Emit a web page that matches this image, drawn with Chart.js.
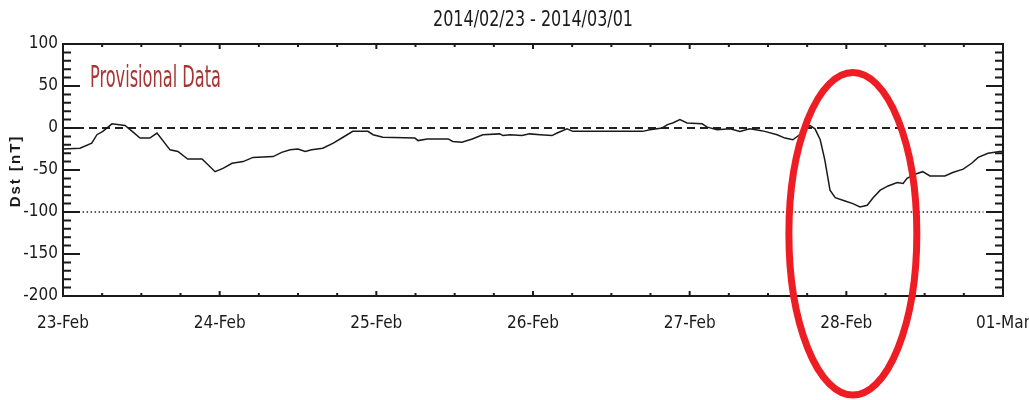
<!DOCTYPE html>
<html lang="en">
<head>
    <meta charset="UTF-8">
    <title>Dst 2014/02/23 - 2014/03/01</title>
    <script src="https://cdn.jsdelivr.net/npm/chart.js"></script>
    <style>
        body {
            margin: 0;
            padding: 0;
            background: #ffffff;
        }

        .chart-container {
            position: relative;
            width: 1029px;
            height: 400px;
        }
    </style>
</head>
<body>
    <div class="chart-container">
        <canvas id="dstChart"></canvas>
    </div>

    <script>
        // hours since 2014-02-23 00:00 UT, and Dst (nT)
        const hours = [0, 2.6, 4.4, 5.2, 6.1, 7.5, 9.5, 10.6, 11.8, 13.3, 14.4, 16.4, 17.6, 19.1, 21.3, 23.3,
            24.5, 25.9, 27.6, 29.1, 32.2, 33.5, 34.8, 36.0, 37.1, 38.1, 39.8, 41.4, 42.9, 44.4, 46.7, 47.5,
            49.0, 53.9, 54.4, 55.8, 59.0, 59.7, 61.1, 62.7, 64.3, 66.9, 67.4, 68.5, 70.3, 71.5, 73.1, 74.9,
            75.7, 77.2, 78.1, 88.8, 89.9, 91.8, 92.6, 93.4, 94.5, 95.6, 97.9, 98.7, 100.2, 102.2, 103.7,
            105.2, 106.8, 107.5, 109.4, 110.6, 111.8, 113.2, 114.4, 115.2, 116.0, 116.7, 117.5, 118.3,
            119.8, 121.0, 122.1, 123.2, 124.1, 125.2, 126.4, 127.8, 128.7, 129.3, 130.5, 131.7, 132.8,
            135.1, 136.3, 137.9, 139.2, 140.2, 141.7, 143.5, 144];
        const dst = [-25, -24, -18, -8, -4, 5, 3, -4, -12, -12, -6, -26, -28, -37, -37, -52,
            -48, -42, -40, -35, -34, -29, -26, -25, -28, -26, -24, -18, -11, -4, -4, -8,
            -11, -12, -15, -13, -13, -16, -17, -13, -8, -7, -9, -8, -9, -7, -8, -9,
            -6, -1, -4, -4, -2, 0, 4, 6, 10, 6, 5, 1, -2, -1, -4,
            -1, -3, -4, -8, -12, -14, -6, 3, -1, -14, -38, -74, -83,
            -87, -90, -94, -92, -83, -74, -69, -65, -66, -60, -55, -52, -57,
            -57, -53, -49, -42, -35, -30, -28, -28];

        const dayLabels = ['23-Feb', '24-Feb', '25-Feb', '26-Feb', '27-Feb', '28-Feb', '01-Mar'];
        const titleText = '2014/02/23 - 2014/03/01';
        const noteText = 'Provisional Data';
        const yTitle = 'Dst [nT]';
        const stormLevel = -100;

        // red circle drawn round the storm (centre hour / nT, half sizes)
        const markCenter = { x: 121, y: -126 };
        const markHalf = { x: 9.8, y: 192 };

        const narrow = "'Liberation Sans Narrow', 'DejaVu Sans Condensed', sans-serif";
        const ink = '#1a1a1a';

        // IDL style box: frame plus inward ticks on all four sides
        const idlFrame = {
            id: 'idlFrame',
            afterDatasetsDraw(chart) {
                const { ctx, chartArea: a, scales: { x, y } } = chart;
                ctx.save();
                ctx.strokeStyle = ink;
                ctx.lineWidth = 2;
                ctx.strokeRect(a.left, a.top, a.right - a.left, a.bottom - a.top);

                ctx.beginPath();
                for (let v = -200; v <= 100; v += 10) {
                    const py = y.getPixelForValue(v);
                    const len = v % 50 === 0 ? 17 : 8;
                    ctx.moveTo(a.left, py);
                    ctx.lineTo(a.left + len, py);
                    ctx.moveTo(a.right, py);
                    ctx.lineTo(a.right - len, py);
                }
                for (let h = 0; h <= 144; h += 6) {
                    const px = x.getPixelForValue(h);
                    const len = h % 24 === 0 ? 5 : 3;
                    ctx.moveTo(px, a.bottom);
                    ctx.lineTo(px, a.bottom - len);
                    ctx.moveTo(px, a.top);
                    ctx.lineTo(px, a.top + len);
                }
                ctx.stroke();
                ctx.restore();
            },
            afterDraw(chart) {
                const { ctx, chartArea: a, scales: { x, y } } = chart;
                ctx.save();

                ctx.fillStyle = ink;
                ctx.font = '21px ' + narrow;
                ctx.textAlign = 'center';
                ctx.textBaseline = 'middle';
                ctx.fillText(titleText, (a.left + a.right) / 2, 21, 200);

                // axis title, spaced out like the original
                ctx.save();
                ctx.translate(16, (a.top + a.bottom) / 2 + 1);
                ctx.rotate(-Math.PI / 2);
                ctx.font = "bold 15px 'Liberation Sans', Arial, sans-serif";
                ctx.letterSpacing = '2px';
                ctx.fillText(yTitle, 0, 0);
                ctx.restore();

                ctx.fillStyle = '#a83434';
                ctx.font = '30px ' + narrow;
                ctx.textAlign = 'left';
                ctx.textBaseline = 'alphabetic';
                ctx.fillText(noteText, a.left + 27, a.top + 43, 131);

                const cx = x.getPixelForValue(markCenter.x);
                const cy = y.getPixelForValue(markCenter.y);
                const rx = x.getPixelForValue(markCenter.x + markHalf.x) - cx;
                const ry = y.getPixelForValue(markCenter.y - markHalf.y) - cy;
                ctx.beginPath();
                ctx.ellipse(cx, cy, rx, ry, 0, 0, Math.PI * 2);
                ctx.strokeStyle = '#ee1d23';
                ctx.lineWidth = 7;
                ctx.stroke();
                ctx.restore();
            }
        };

        new Chart(document.getElementById('dstChart'), {
            type: 'line',
            data: {
                datasets: [
                    {
                        label: 'Dst',
                        data: hours.map((h, i) => ({ x: h, y: dst[i] })),
                        borderColor: ink,
                        borderWidth: 1.5,
                        pointRadius: 0,
                        tension: 0
                    },
                    {
                        label: 'zero',
                        data: [{ x: 0, y: 0 }, { x: 144, y: 0 }],
                        borderColor: '#222',
                        borderWidth: 2,
                        borderDash: [8, 5],
                        pointRadius: 0
                    },
                    {
                        label: 'storm',
                        data: [{ x: 3, y: stormLevel }, { x: 141, y: stormLevel }],
                        borderColor: '#222',
                        borderWidth: 1.5,
                        borderDash: [1.5, 2.5],
                        pointRadius: 0
                    }
                ]
            },
            options: {
                responsive: true,
                maintainAspectRatio: false,
                animation: false,
                layout: { padding: { top: 44, right: 26, left: 0, bottom: 0 } },
                plugins: {
                    legend: { display: false },
                    tooltip: { enabled: false }
                },
                scales: {
                    x: {
                        type: 'linear',
                        min: 0,
                        max: 144,
                        grid: { display: false, drawTicks: false },
                        border: { display: false },
                        ticks: {
                            stepSize: 24,
                            autoSkip: false,
                            maxRotation: 0,
                            padding: 17,
                            color: ink,
                            font: { family: narrow, size: 17 },
                            callback: (v, i) => dayLabels[i]
                        },
                        afterFit: s => {
                            s.height = 104;
                            s.paddingLeft = 0;
                            s.paddingRight = 0;
                        }
                    },
                    y: {
                        min: -200,
                        max: 100,
                        grid: { display: false, drawTicks: false },
                        border: { display: false },
                        ticks: {
                            stepSize: 50,
                            padding: 5,
                            color: ink,
                            font: { family: narrow, size: 17 }
                        },
                        afterFit: s => {
                            s.width = 63;
                            s.paddingTop = 0;
                            s.paddingBottom = 0;
                        }
                    }
                }
            },
            plugins: [idlFrame]
        });
    </script>
</body>
</html>
